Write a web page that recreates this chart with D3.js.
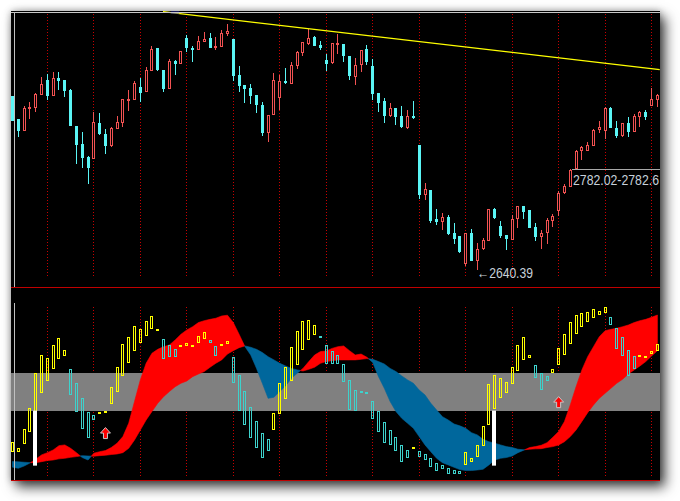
<!DOCTYPE html>
<html><head><meta charset="utf-8">
<script src="https://cdn.jsdelivr.net/npm/d3@7"></script>
<style>
html,body{margin:0;padding:0;background:#fff;width:680px;height:501px;overflow:hidden}
#frame{position:absolute;left:11px;top:11px;width:649px;height:470px;background:#000;box-shadow:5px 6px 12px rgba(0,0,0,0.75),0 0 7px rgba(0,0,0,0.3)}
svg{position:absolute;left:0;top:0}
</style></head><body><div id="frame"></div><svg id="chart" width="680" height="501"></svg>
<script>
// ---------- DATA (bar index k = 0 .. 111) ----------
const candleOpen=[2883.1,2851.1,2834.9,2865.5,2866.9,2884.9,2905.3,2883.5,2908.1,2905.3,2891.4,2841.4,2816.3,2798.7,2795.5,2845.5,2830.2,2813.5,2837.7,2845.5,2876.6,2877.5,2895.6,2888.6,2917.9,2949.8,2919.2,2892.8,2931.8,2927.6,2963.7,2949.8,2947.1,2958.2,2963.7,2949.8,2951.2,2969.3,2962.4,2912.3,2898.4,2894.2,2884.5,2870.6,2831.2,2856.7,2880.3,2903.9,2900.2,2924.8,2942.9,2955.4,2965.1,2954.0,2933.2,2929.0,2955.4,2955.4,2938.7,2909.5,2926.2,2948.5,2924.8,2887.3,2876.1,2855.3,2866.4,2855.3,2838.6,2855.3,2814.9,2745.4,2752.3,2712.0,2707.8,2714.8,2692.5,2688.4,2649.4,2692.5,2653.6,2670.3,2681.4,2725.9,2702.3,2689.8,2682.8,2712.0,2730.1,2724.5,2700.9,2687.0,2692.5,2709.2,2723.1,2748.2,2756.5,2781.6,2806.6,2807.1,2813.5,2835.8,2834.4,2866.4,2838.6,2827.5,2845.5,2833.0,2853.9,2860.8,2869.2,2877.5];
const candleHigh=[2883.1,2851.1,2869.2,2874.7,2887.3,2909.5,2913.7,2916.5,2916.5,2905.3,2892.8,2841.4,2833.0,2799.6,2860.8,2859.4,2837.2,2840.0,2855.3,2878.9,2891.4,2903.9,2908.1,2923.4,2952.6,2949.8,2919.2,2934.5,2933.2,2945.7,2967.9,2952.6,2966.5,2972.1,2970.7,2965.1,2974.9,2983.2,2962.4,2924.8,2898.4,2899.8,2884.5,2874.7,2856.7,2915.1,2912.3,2922.0,2930.4,2945.7,2958.2,2976.3,2966.5,2959.6,2941.5,2956.8,2969.3,2955.4,2938.7,2935.9,2947.1,2954.0,2934.5,2887.3,2880.3,2873.3,2866.4,2869.2,2863.6,2876.1,2814.9,2762.1,2752.3,2725.9,2720.4,2717.6,2706.4,2688.4,2692.5,2698.1,2678.6,2685.6,2725.9,2727.3,2709.2,2689.8,2717.6,2730.1,2730.1,2724.5,2706.4,2696.7,2713.4,2719.0,2751.0,2760.7,2781.6,2808.0,2813.5,2819.1,2837.2,2848.3,2867.8,2867.8,2848.3,2845.5,2853.9,2858.0,2862.2,2863.6,2894.2,2885.9];
const candleLow=[2848.8,2826.5,2834.9,2851.6,2861.3,2884.9,2877.5,2883.5,2891.4,2881.7,2841.4,2788.5,2782.9,2760.7,2795.5,2828.8,2802.4,2812.2,2837.7,2840.0,2862.2,2877.5,2874.7,2888.6,2917.9,2917.9,2888.6,2892.8,2912.3,2927.6,2944.3,2930.4,2947.1,2958.2,2949.8,2947.1,2951.2,2966.5,2903.9,2888.6,2873.3,2872.0,2859.4,2827.5,2819.1,2856.7,2863.6,2899.8,2900.2,2920.6,2938.7,2954.0,2952.6,2947.1,2917.9,2927.6,2941.5,2930.4,2905.3,2898.4,2916.5,2926.2,2877.5,2860.8,2845.5,2853.9,2842.7,2838.6,2837.2,2851.1,2739.8,2738.4,2706.4,2703.7,2696.7,2689.8,2677.2,2664.7,2646.6,2653.6,2640.39,2668.9,2681.4,2712.0,2685.6,2668.9,2682.8,2699.5,2712.0,2699.5,2681.4,2670.3,2677.2,2700.9,2716.2,2746.8,2756.5,2781.6,2794.1,2807.1,2813.5,2831.6,2823.3,2838.6,2824.7,2826.1,2826.1,2833.0,2840.0,2849.7,2869.2,2867.8];
const candleClose=[2848.8,2834.9,2866.4,2867.8,2885.9,2899.8,2883.1,2908.1,2903.9,2890.0,2841.4,2814.9,2796.9,2783.4,2846.9,2830.2,2813.5,2838.6,2846.9,2878.9,2878.9,2901.2,2887.3,2919.2,2948.5,2919.2,2892.8,2931.8,2927.6,2945.7,2949.8,2947.1,2959.6,2962.4,2949.8,2952.6,2970.7,2973.5,2910.9,2897.0,2892.8,2883.1,2870.6,2831.6,2856.7,2905.3,2903.9,2901.2,2926.2,2944.3,2958.2,2963.7,2952.6,2949.8,2927.6,2956.8,2956.8,2938.7,2910.9,2926.2,2947.1,2930.4,2885.9,2873.3,2855.3,2866.4,2853.9,2840.0,2855.3,2852.5,2745.4,2753.7,2709.2,2707.8,2714.8,2691.2,2684.2,2666.1,2692.5,2653.6,2670.3,2682.8,2725.9,2713.4,2688.4,2684.2,2712.0,2730.1,2721.8,2699.5,2687.0,2692.5,2710.6,2716.2,2748.2,2757.9,2780.2,2806.6,2812.2,2814.9,2835.8,2840.0,2866.4,2838.6,2827.5,2845.5,2833.0,2855.3,2860.8,2853.9,2878.9,2884.5];
const separators=[6,14,22,30,38,46,54,62,70,78,86,94,102,110];
const trendLine=[{k:25.9,p:3000.4},{k:111.4,p:2919.8}];
const topMarker=[{k:27.3,p:3000},{k:28.7,p:3000}];
const levelLine={k:96,p:2782.02,label:"2782.02-2782.6"};
const lowMark={k:80,p:2640.39,label:"\u21902640.39"};

const oscFast=[10,9.4,10.6,12.2,14.2,16.5,17.7,19.1,21.4,21.8,20.0,17.7,15.1,13.8,17.4,18.2,18.8,20.4,22.7,26.2,33.3,44.8,56.3,65.1,70.4,72.5,73.9,74.8,77.5,80.5,82.8,84.5,86.7,87.7,88.4,89.0,90.2,90.6,86.7,80.5,74.0,69.5,62.4,54.5,46.5,47.1,50.1,53.1,57.1,59.8,62.4,66.0,69.5,71.3,71.6,73.0,73.9,74.3,71.8,69.5,70.0,68.3,65.5,58.0,51.8,44.8,39.5,35.9,33.3,30.6,26.2,21.8,18.2,14.7,12.4,11.2,9.9,8.7,8.2,8.2,8.5,8.9,11.2,13.8,14.7,15.1,15.9,17.7,19.0,20.4,20.9,21.6,23.0,25.8,28.9,34.2,43.0,52.7,61.6,68.6,73.9,79.2,82.4,83.1,83.7,84.5,85.4,86.7,87.7,88.4,89.5,90.7];
const oscSlow=[13,12.8,12.6,12.4,12.4,12.9,13.5,13.8,14.4,14.7,15.2,15.6,16.1,15.9,15.8,16.1,16.3,16.7,17.0,17.7,20.0,24.4,29.7,35.0,39.5,43.9,47.4,50.1,52.7,54.5,55.7,58.0,59.4,60.7,63.0,65.1,66.9,70.0,71.8,73.4,74.3,73.6,72.5,70.8,68.6,66.9,65.1,63.7,62.4,61.6,61.0,61.9,63.0,65.1,66.0,66.5,66.9,66.9,66.9,66.9,67.2,67.6,67.2,66.0,64.7,62.4,60.7,58.4,56.3,54.5,50.9,48.3,43.9,40.3,36.8,35.0,32.9,31.9,30.6,28.3,27.1,24.8,23.5,22.7,21.8,20.9,20.4,19.5,19.2,19.5,19.7,19.8,20.4,20.9,21.8,23.5,26.2,29.7,34.2,38.9,43.0,46.5,49.2,51.8,54.5,56.6,59.4,61.6,63.7,66.0,69.0,71.8];
const barHigh=[23.2,20.0,30.1,41.2,59.8,69.3,67.8,74.6,78.4,72.0,61.9,54.5,46.5,39.1,37.5,39.1,39.6,52.4,63.0,75.2,78.9,84.7,83.1,87.4,90.0,83.3,77.8,74.6,72.5,74.6,75.7,74.6,79.4,81.5,77.3,74.1,75.2,76.8,68.3,58.7,50.2,41.8,34.3,28.0,24.8,38.6,54.5,63.0,73.6,82.1,87.4,87.9,85.3,79.4,74.6,71.5,69.3,64.6,56.1,50.8,50.2,49.7,44.9,39.6,33.8,29.6,25.8,21.6,19.0,20.5,18.4,16.8,14.7,12.1,11.0,9.4,8.3,7.8,17.9,14.7,21.6,31.7,54.0,58.7,57.1,55.0,63.0,74.6,78.9,69.3,64.0,59.8,58.2,61.9,73.1,80.5,86.8,90.6,91.6,92.2,93.7,92.7,94.8,89.5,83.7,78.9,72.0,68.8,69.3,69.0,71.5,75.2];
const barLow=[17.9,18.2,22.1,28.5,39.1,49.2,55.5,61.9,67.2,68.8,48.1,39.1,30.1,25.3,34.9,38.0,38.6,43.4,49.7,58.2,65.1,71.5,75.7,79.4,83.1,82.9,67.2,68.3,68.3,73.6,74.1,74.1,75.7,77.8,75.7,68.8,74.6,75.2,54.5,39.6,32.2,25.3,20.0,14.7,18.4,29.6,38.0,46.0,55.5,64.0,72.0,77.3,80.0,78.9,64.6,64.6,64.6,55.0,40.2,39.6,49.2,48.7,35.4,28.5,22.7,21.6,18.4,12.6,14.7,19.5,15.2,13.6,9.9,7.8,8.9,6.2,6.2,6.2,11.0,12.6,15.2,21.1,32.2,40.7,46.5,49.2,54.0,60.9,66.7,67.8,57.1,50.8,55.5,59.8,64.0,69.3,75.2,80.5,84.2,86.8,89.0,90.6,91.6,85.3,72.5,68.8,58.2,61.9,68.8,68.6,69.9,71.5];
const barRising=[1,1,1,1,1,1,1,1,1,1, 0,0,0,0,0, 1,1,1,1,1,1,1,1,1,1,1, 0,0,0, 1,1,1,1,1, 0,0, 1,1, 0,0,0,0,0,0,0, 1,1,1,1,1,1,1,1, 0,0,0,0,0,0,0,0,0,0,0,0,0,0,0,0, 1, 0,0,0,0,0,0,0,0, 1,1,1,1,1,1,1,1,1,1,1,1, 0,0,0, 1,1,1,1,1,1,1,1,1,1, 0,0,0,0,0, 1,1,1,1];
const bandRange=[40,60];
const signalBars=[{k:4,from:40,to:10.8},{k:83,from:40,to:10.8}];
const buyArrows=[{k:16,v:31.0},{k:94,v:47.4}];

// ---------- SCALES ----------
const L=11,R=660,T=12,SEP=287,B=480;
const xS=d3.scaleLinear().domain([0,111]).range([12.5,657.4]);
const yP=d3.scaleLinear().domain([2617.4,3000]).range([SEP,T]);
const yO=d3.scaleLinear().domain([0,100]).range([486,297.5]);
const px=k=>Math.floor(xS(k));
const FONT="'Liberation Sans Narrow','Liberation Sans','DejaVu Sans Condensed',sans-serif";

const svg=d3.select("#chart");
const defs=svg.append("defs");
defs.append("clipPath").attr("id","cp").append("rect").attr("x",L).attr("y",T).attr("width",R-L).attr("height",SEP-T);
defs.append("clipPath").attr("id","co").append("rect").attr("x",L).attr("y",SEP+1).attr("width",R-L).attr("height",B-SEP-1);
defs.append("clipPath").attr("id","cw").append("rect").attr("x",L).attr("y",0).attr("width",R-L).attr("height",SEP);

svg.append("rect").attr("x",L).attr("y",11).attr("width",R-L).attr("height",470).attr("fill","#000");

// ---------- PRICE PANEL ----------
const gp=svg.append("g").attr("clip-path","url(#cp)");
gp.selectAll("line.sep").data(separators).join("line")
  .attr("x1",k=>px(k)+0.5).attr("x2",k=>px(k)+0.5).attr("y1",14).attr("y2",276)
  .attr("stroke","#c80000").attr("stroke-dasharray","1,2");

const idx=d3.range(candleOpen.length);
const CY="#5af5f5", CR="#f25252";
const gc=gp.append("g").attr("shape-rendering","crispEdges");
idx.forEach(k=>{
  const o=candleOpen[k],c=candleClose[k],h=candleHigh[k],l=candleLow[k];
  const up=c>o, x=px(k);
  const yh=Math.round(yP(h)), yl=Math.round(yP(l));
  let yt=Math.round(yP(Math.max(o,c))), yb=Math.round(yP(Math.min(o,c)));
  if(yb-yt<2) yb=yt+2;
  const col=up?CR:CY;
  gc.append("line").attr("x1",x+0.5).attr("x2",x+0.5).attr("y1",yh).attr("y2",Math.max(yl,yh+1)).attr("stroke",col);
  if(up){
    gc.append("rect").attr("x",x-0.5).attr("y",yt+0.5).attr("width",2).attr("height",yb-yt-1)
      .attr("fill","#000").attr("stroke",col);
  }else{
    gc.append("rect").attr("x",x-1).attr("y",yt).attr("width",3).attr("height",yb-yt).attr("fill",col);
  }
});

const ly=Math.round(yP(levelLine.p))+0.5;
gp.append("line").attr("x1",px(levelLine.k)+2).attr("x2",R).attr("y1",ly).attr("y2",ly).attr("stroke","#a8a8a8");
gp.append("text").attr("x",px(levelLine.k)+3).attr("y",ly+15.5).text(levelLine.label)
  .attr("font-family",FONT).attr("font-size",15).attr("fill","#c6d0da")
  .attr("textLength",86).attr("lengthAdjust","spacingAndGlyphs");
gp.append("text").attr("x",px(lowMark.k)).attr("y",yP(lowMark.p)+8).text(lowMark.label)
  .attr("font-family",FONT).attr("font-size",15).attr("fill","#c6d0da")
  .attr("textLength",56).attr("lengthAdjust","spacingAndGlyphs");

const gw=svg.append("g").attr("clip-path","url(#cw)");
gw.append("line").attr("x1",xS(trendLine[0].k)).attr("y1",yP(trendLine[0].p))
  .attr("x2",xS(trendLine[1].k)).attr("y2",yP(trendLine[1].p)).attr("stroke","#ffff00").attr("stroke-width",1.2);
gw.append("line").attr("x1",xS(topMarker[0].k)).attr("x2",xS(topMarker[1].k))
  .attr("y1",yP(topMarker[0].p)+0.5).attr("y2",yP(topMarker[1].p)+0.5).attr("stroke","#2a2ab0").attr("stroke-width",2);

// ---------- OSCILLATOR PANEL ----------
const go=svg.append("g").attr("clip-path","url(#co)");
go.selectAll("line.sep").data(separators).join("line")
  .attr("x1",k=>px(k)+0.5).attr("x2",k=>px(k)+0.5).attr("y1",307).attr("y2",477)
  .attr("stroke","#c80000").attr("stroke-dasharray","1,2");
go.append("rect").attr("x",L).attr("width",R-L).attr("y",yO(bandRange[1])).attr("height",yO(bandRange[0])-yO(bandRange[1]))
  .attr("fill","#808080").attr("shape-rendering","crispEdges");

// cloud runs
const runs=[];let cur=null;
idx.forEach(k=>{
  const a=oscFast[k],b=oscSlow[k],s=a>=b?1:-1;
  if(!cur){cur={s,pts:[{k,a,b}]};return;}
  if(s===cur.s){cur.pts.push({k,a,b});}
  else{
    const pa=oscFast[k-1],pb=oscSlow[k-1],d0=pa-pb,d1=a-b,t=d0/(d0-d1);
    const kc=k-1+t,vc=pa+(a-pa)*t;
    cur.pts.push({k:kc,a:vc,b:vc});runs.push(cur);
    cur={s,pts:[{k:kc,a:vc,b:vc},{k,a,b}]};
  }
});
runs.push(cur);
const area=d3.area().x(d=>xS(d.k)).y0(d=>yO(d.b)).y1(d=>yO(d.a));
go.selectAll("path.cloud").data(runs).join("path").attr("d",r=>area(r.pts))
  .attr("fill",r=>r.s>0?"#ff0000":"#00679c").attr("stroke",r=>r.s>0?"#ff0000":"#00679c").attr("stroke-width",0.6);

// bars
const gb=go.append("g").attr("shape-rendering","crispEdges");
idx.forEach(k=>{
  const col=barRising[k]?"#ffff00":"#3ed2cc";
  const x=px(k), yt=Math.round(yO(barHigh[k])), yb=Math.round(yO(barLow[k]));
  if(yb-yt<=2){
    gb.append("rect").attr("x",x-1).attr("y",yt).attr("width",3).attr("height",Math.max(2,yb-yt)).attr("fill",col);
  }else{
    gb.append("rect").attr("x",x-0.5).attr("y",yt+0.5).attr("width",2).attr("height",yb-yt-1)
      .attr("fill","none").attr("stroke",col);
  }
});
// signal bars
go.selectAll("rect.sig").data(signalBars).join("rect")
  .attr("x",d=>px(d.k)-2).attr("width",4).attr("y",d=>yO(d.from)).attr("height",d=>yO(d.to)-yO(d.from)).attr("fill","#fff");
// arrows
go.selectAll("path.arr").data(buyArrows).join("path")
  .attr("d",d=>{const x=xS(d.k),y=yO(d.v);return `M${x},${y}L${x+5},${y+5.5}L${x+2},${y+5.5}L${x+2},${y+11}L${x-2},${y+11}L${x-2},${y+5.5}L${x-5},${y+5.5}Z`;})
  .attr("fill","#ff0000").attr("stroke","#c8c8c8").attr("stroke-width",1);

// ---------- FRAME LINES ----------
svg.append("line").attr("x1",L).attr("x2",R).attr("y1",T+0.5).attr("y2",T+0.5).attr("stroke","#c8c8c8");
svg.append("line").attr("x1",14.5).attr("x2",14.5).attr("y1",T).attr("y2",SEP).attr("stroke","#c0c0c0");
svg.append("line").attr("x1",14.5).attr("x2",14.5).attr("y1",303).attr("y2",B).attr("stroke","#c0c0c0");
svg.append("line").attr("x1",L).attr("x2",R).attr("y1",SEP+0.5).attr("y2",SEP+0.5).attr("stroke","#c00000");
svg.append("line").attr("x1",L).attr("x2",R).attr("y1",B+0.5).attr("y2",B+0.5).attr("stroke","#c00000");
</script></body></html>
